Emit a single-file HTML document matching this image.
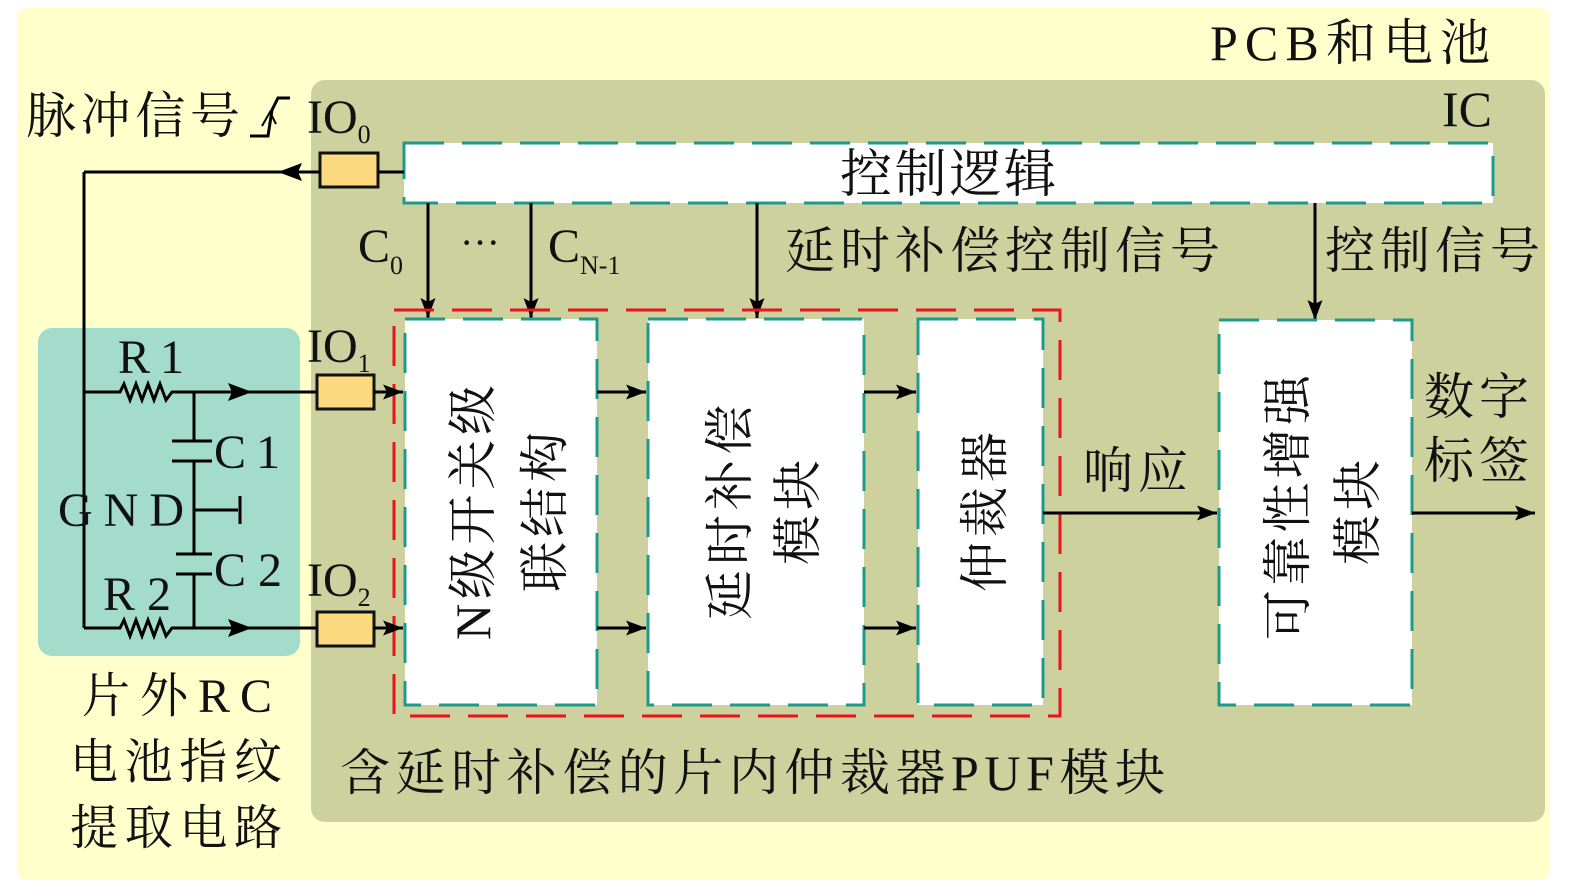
<!DOCTYPE html>
<html><head><meta charset="utf-8"><style>
html,body{margin:0;padding:0;background:#fff;}
svg{display:block;}
.t{font-family:"Liberation Serif","Noto Serif CJK SC",serif;fill:#111;}
</style></head><body>
<svg width="1575" height="886" viewBox="0 0 1575 886" xmlns="http://www.w3.org/2000/svg">
<defs>
<marker id="a" viewBox="0 0 10 10" refX="10" refY="5" markerWidth="20" markerHeight="15" orient="auto" markerUnits="userSpaceOnUse" preserveAspectRatio="none">
<path d="M0,0 L10,5 L0,10 L2,5 z" fill="#000"/></marker>
</defs>
<rect x="0" y="0" width="1575" height="886" fill="#fff"/>
<rect x="17" y="8" width="1533" height="872" rx="10" fill="#ffffcc"/>
<rect x="311" y="80" width="1234" height="742" rx="14" fill="#cdd19e"/>
<rect x="38" y="328" width="262" height="328" rx="14" fill="#a4dccb"/>

<!-- titles -->
<text class="t" x="1210" y="60" font-size="50" textLength="280" lengthAdjust="spacing">PCB和电池</text>
<text class="t" x="1492" y="126" font-size="50" text-anchor="end">IC</text>
<text class="t" x="26" y="133" font-size="50" textLength="214" lengthAdjust="spacing">脉冲信号</text>
<path d="M250,136 L268,136 L272,110 L278,98 L290,98" fill="none" stroke="#000" stroke-width="3"/>
<path d="M262,126 L270,112 L276,124" fill="none" stroke="#000" stroke-width="2"/>
<text class="t" x="307" y="133" font-size="48">IO<tspan font-size="26" dy="10">0</tspan></text>

<!-- control logic -->
<rect x="404" y="143" width="1089" height="60" fill="#fff" stroke="#1e9a8a" stroke-width="3" stroke-dasharray="40,18"/>
<text class="t" x="840" y="192" font-size="52" textLength="216" lengthAdjust="spacing">控制逻辑</text>

<!-- IO0 -->
<rect x="320" y="153" width="58" height="34" fill="#fbd97e" stroke="#111" stroke-width="3"/>
<line x1="378" y1="172" x2="404" y2="172" stroke="#000" stroke-width="3"/>
<line x1="320" y1="172" x2="84" y2="172" stroke="#000" stroke-width="3"/>
<path d="M278,172 L302,163 L298,172 L302,181 z" fill="#000"/>
<line x1="84" y1="172" x2="84" y2="628" stroke="#000" stroke-width="3"/>

<!-- vertical signal lines -->
<line x1="428" y1="203" x2="428" y2="318" stroke="#000" stroke-width="3" marker-end="url(#a)"/>
<line x1="531" y1="203" x2="531" y2="318" stroke="#000" stroke-width="3" marker-end="url(#a)"/>
<line x1="757" y1="203" x2="757" y2="318" stroke="#000" stroke-width="3" marker-end="url(#a)"/>
<line x1="1315" y1="203" x2="1315" y2="320" stroke="#000" stroke-width="3" marker-end="url(#a)"/>
<text class="t" x="358" y="262" font-size="48">C<tspan font-size="26" dy="12">0</tspan></text>
<text class="t" x="460" y="256" font-size="40">···</text>
<text class="t" x="548" y="262" font-size="48">C<tspan font-size="26" dy="12">N-1</tspan></text>
<text class="t" x="785" y="268" font-size="50" textLength="435" lengthAdjust="spacing">延时补偿控制信号</text>
<text class="t" x="1325" y="268" font-size="50" textLength="215" lengthAdjust="spacing">控制信号</text>

<!-- red dashed PUF box -->
<rect x="394" y="310" width="666" height="406" fill="none" stroke="#e8141e" stroke-width="3" stroke-dasharray="40,18"/>

<!-- blocks -->
<rect x="405" y="319" width="192" height="386" fill="#fff" stroke="#1e9a8a" stroke-width="3" stroke-dasharray="40,18"/>
<rect x="648" y="319" width="216" height="386" fill="#fff" stroke="#1e9a8a" stroke-width="3" stroke-dasharray="40,18"/>
<rect x="918" y="319" width="125" height="386" fill="#fff" stroke="#1e9a8a" stroke-width="3" stroke-dasharray="40,18"/>
<rect x="1219" y="320" width="193" height="385" fill="#fff" stroke="#1e9a8a" stroke-width="3" stroke-dasharray="40,18"/>

<text class="t" font-size="50" transform="translate(490,640) rotate(-90)" textLength="255" lengthAdjust="spacing">N级开关级</text>
<text class="t" font-size="50" transform="translate(562,592) rotate(-90)" textLength="160" lengthAdjust="spacing">联结构</text>
<text class="t" font-size="50" transform="translate(747,620) rotate(-90)" textLength="215" lengthAdjust="spacing">延时补偿</text>
<text class="t" font-size="50" transform="translate(815,565) rotate(-90)" textLength="105" lengthAdjust="spacing">模块</text>
<text class="t" font-size="50" transform="translate(1002,592) rotate(-90)" textLength="160" lengthAdjust="spacing">仲裁器</text>
<text class="t" font-size="50" transform="translate(1305,640) rotate(-90)" textLength="265" lengthAdjust="spacing">可靠性增强</text>
<text class="t" font-size="50" transform="translate(1375,565) rotate(-90)" textLength="105" lengthAdjust="spacing">模块</text>

<!-- inter-block arrows -->
<line x1="597" y1="392" x2="646" y2="392" stroke="#000" stroke-width="3" marker-end="url(#a)"/>
<line x1="597" y1="628" x2="646" y2="628" stroke="#000" stroke-width="3" marker-end="url(#a)"/>
<line x1="864" y1="392" x2="916" y2="392" stroke="#000" stroke-width="3" marker-end="url(#a)"/>
<line x1="864" y1="628" x2="916" y2="628" stroke="#000" stroke-width="3" marker-end="url(#a)"/>
<line x1="1043" y1="513" x2="1217" y2="513" stroke="#000" stroke-width="3" marker-end="url(#a)"/>
<line x1="1412" y1="513" x2="1535" y2="513" stroke="#000" stroke-width="3" marker-end="url(#a)"/>
<text class="t" x="1083" y="488" font-size="50" textLength="105" lengthAdjust="spacing">响应</text>
<text class="t" x="1424" y="414" font-size="50" textLength="105" lengthAdjust="spacing">数字</text>
<text class="t" x="1424" y="478" font-size="50" textLength="105" lengthAdjust="spacing">标签</text>

<!-- IO1, IO2 -->
<text class="t" x="307" y="362" font-size="48">IO<tspan font-size="26" dy="10">1</tspan></text>
<text class="t" x="307" y="596" font-size="48">IO<tspan font-size="26" dy="10">2</tspan></text>
<rect x="317" y="375" width="57" height="34" fill="#fbd97e" stroke="#111" stroke-width="3"/>
<rect x="317" y="612" width="57" height="34" fill="#fbd97e" stroke="#111" stroke-width="3"/>
<line x1="374" y1="392" x2="403" y2="392" stroke="#000" stroke-width="3" marker-end="url(#a)"/>
<line x1="374" y1="628" x2="403" y2="628" stroke="#000" stroke-width="3" marker-end="url(#a)"/>

<!-- RC circuit -->
<path d="M84,392 L120,392 L124,384 L130,400 L136,384 L142,400 L148,384 L154,400 L160,384 L166,400 L172,392 L317,392" fill="none" stroke="#000" stroke-width="3"/>
<path d="M84,628 L120,628 L124,620 L130,636 L136,620 L142,636 L148,620 L154,636 L160,620 L166,636 L172,628 L317,628" fill="none" stroke="#000" stroke-width="3"/>
<path d="M228,383 L252,392 L228,401 L232,392 z" fill="#000"/>
<path d="M228,619 L252,628 L228,637 L232,628 z" fill="#000"/>
<line x1="194" y1="392" x2="194" y2="441" stroke="#000" stroke-width="3"/>
<line x1="172" y1="441" x2="212" y2="441" stroke="#000" stroke-width="3"/>
<line x1="172" y1="461" x2="212" y2="461" stroke="#000" stroke-width="3"/>
<line x1="194" y1="461" x2="194" y2="554" stroke="#000" stroke-width="3"/>
<line x1="194" y1="510" x2="238" y2="510" stroke="#000" stroke-width="3"/>
<line x1="240" y1="496" x2="240" y2="524" stroke="#000" stroke-width="3"/>
<line x1="176" y1="554" x2="212" y2="554" stroke="#000" stroke-width="3"/>
<line x1="176" y1="574" x2="212" y2="574" stroke="#000" stroke-width="3"/>
<line x1="194" y1="574" x2="194" y2="628" stroke="#000" stroke-width="3"/>
<text class="t" x="118" y="373" font-size="48" textLength="66" lengthAdjust="spacing">R1</text>
<text class="t" x="214" y="468" font-size="48" textLength="66" lengthAdjust="spacing">C1</text>
<text class="t" x="58" y="526" font-size="48" textLength="126" lengthAdjust="spacing">GND</text>
<text class="t" x="214" y="586" font-size="48" textLength="68" lengthAdjust="spacing">C2</text>
<text class="t" x="103" y="610" font-size="48" textLength="68" lengthAdjust="spacing">R2</text>

<text class="t" x="82" y="712" font-size="48" textLength="190" lengthAdjust="spacing">片外RC</text>
<text class="t" x="70" y="778" font-size="48" textLength="212" lengthAdjust="spacing">电池指纹</text>
<text class="t" x="70" y="844" font-size="48" textLength="212" lengthAdjust="spacing">提取电路</text>
<text class="t" x="340" y="790" font-size="50" textLength="825" lengthAdjust="spacing">含延时补偿的片内仲裁器PUF模块</text>
</svg>
</body></html>
